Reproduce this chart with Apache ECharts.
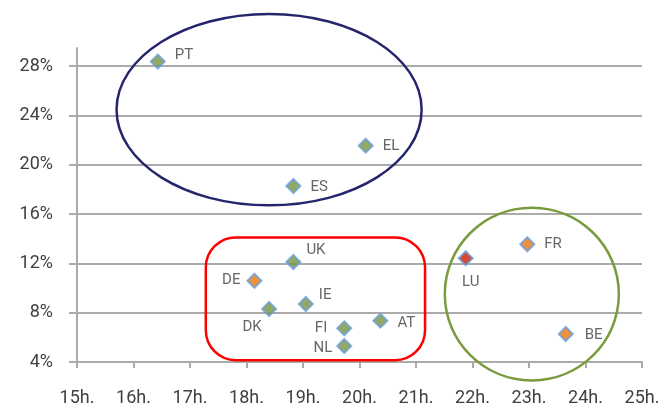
<!DOCTYPE html>
<html>
<head>
<meta charset="utf-8">
<script src="https://cdn.jsdelivr.net/npm/echarts@6/dist/echarts.min.js"></script>
<style>
  html, body { margin: 0; padding: 0; background: #fff; }
  #chart { width: 665px; height: 408px; }
</style>
</head>
<body>
<div id="chart"></div>
<script>
// Country codes and their coordinates (x: hours, y: percent)
const countries = ['PT', 'EL', 'ES', 'UK', 'DE', 'IE', 'DK', 'FI', 'NL', 'AT', 'LU', 'FR', 'BE'];
const xValues  = [16.43, 20.11, 18.83, 18.83, 18.14, 19.05, 18.40, 19.73, 19.73, 20.37, 21.88, 22.97, 23.65];
const yValues  = [28.36, 21.54, 18.27, 12.11, 10.59, 8.70, 8.30, 6.73, 5.30, 7.35, 12.41, 13.55, 6.27];
const groups   = ['g', 'g', 'g', 'g', 'o', 'g', 'g', 'g', 'g', 'g', 'r', 'o', 'o'];

// Axis tick labels
const xTickLabels = ['15h.', '16h.', '17h.', '18h.', '19h.', '20h.', '21h.', '22h.', '23h.', '24h.', '25h.'];
const yTickValues = [4, 8, 12, 16, 20, 24, 28];
const yTickLabels = ['4%', '8%', '12%', '16%', '20%', '24%', '28%'];

// Marker fill per group
const groupColors = { g: '#77933C', o: '#E8760E', r: '#CC1A00' };

// Where each country label sits relative to its marker
const labelLayout = {
  PT: { position: 'right', offset: [0, -6] },
  EL: { position: 'right', offset: [0, 1] },
  ES: { position: 'right', offset: [0, 1] },
  UK: { position: 'right', offset: [-4, -12] },
  DE: { position: 'left',  offset: [3, 0] },
  IE: { position: 'right', offset: [-4, -9] },
  DK: { position: 'bottom', offset: [-17, -6] },
  FI: { position: 'left',  offset: [0, 0] },
  NL: { position: 'left',  offset: [5, 2] },
  AT: { position: 'right', offset: [0, 3] },
  LU: { position: 'bottom', offset: [5, -1] },
  FR: { position: 'right', offset: [0, 0] },
  BE: { position: 'right', offset: [2, 1] }
};

const FONT = 'Roboto, "DejaVu Sans", sans-serif';
const TEXT = '#404040';
const AXIS_GREY = '#ababab';

const points = countries.map((c, i) => ({
  name: c,
  value: [xValues[i], yValues[i]],
  itemStyle: { color: groupColors[groups[i]] },
  label: Object.assign({ show: true }, labelLayout[c])
}));

const chart = echarts.init(document.getElementById('chart'), null, { renderer: 'canvas' });

chart.setOption({
  animation: false,
  backgroundColor: '#fff',
  grid: { left: 77, right: 23, top: 48, bottom: 46 },
  xAxis: {
    type: 'value',
    min: 15, max: 25, interval: 1,
    axisLine: { show: true, lineStyle: { color: AXIS_GREY, width: 2 } },
    axisTick: { show: true, length: 6, lineStyle: { color: AXIS_GREY, width: 2 } },
    splitLine: { show: false },
    axisLabel: {
      margin: 27,
      color: TEXT, fontFamily: FONT, fontSize: 18,
      formatter: (v) => xTickLabels[Math.round(v - 15)]
    }
  },
  yAxis: {
    type: 'value',
    min: 4, max: 29.46, interval: 4,
    axisLine: { show: true, lineStyle: { color: AXIS_GREY, width: 2 } },
    axisTick: {
      show: true, length: 8, customValues: yTickValues,
      lineStyle: { color: AXIS_GREY, width: 2 }
    },
    splitLine: { show: true, lineStyle: { color: AXIS_GREY, width: 2 } },
    axisLabel: {
      margin: 24, customValues: yTickValues,
      color: TEXT, fontFamily: FONT, fontSize: 18,
      formatter: (v) => yTickLabels[yTickValues.indexOf(Math.round(v))] || ''
    }
  },
  series: [{
    type: 'scatter',
    symbol: 'diamond',
    symbolSize: 14,
    z: 5,
    itemStyle: { borderColor: '#6A9FD8', borderWidth: 2 },
    label: {
      show: true,
      distance: 9,
      color: TEXT, fontFamily: FONT, fontSize: 15,
      formatter: (p) => p.name
    },
    data: points
  }]
});

// Annotation outlines, placed in data units and converted to pixels
function px(x, y) { return chart.convertToPixel({ gridIndex: 0 }, [x, y]); }

const ellC = px(18.40, 24.46);
const ellE = px(18.40 + 2.70, 24.46 + 7.76);
const rectA = px(17.28, 14.10);
const rectB = px(21.16, 4.15);
const circC = px(23.05, 9.51);
const circE = px(23.05 + 1.54, 9.51 + 7.0);

chart.setOption({
  graphic: [
    {
      type: 'ellipse', z: 10,
      shape: { cx: ellC[0], cy: ellC[1], rx: ellE[0] - ellC[0], ry: ellC[1] - ellE[1] },
      style: { fill: null, stroke: '#25256E', lineWidth: 2.5 }
    },
    {
      type: 'rect', z: 10,
      shape: { x: rectA[0], y: rectA[1], width: rectB[0] - rectA[0], height: rectB[1] - rectA[1], r: 30 },
      style: { fill: null, stroke: '#FF0000', lineWidth: 2.5 }
    },
    {
      type: 'ellipse', z: 10,
      shape: { cx: circC[0], cy: circC[1], rx: circE[0] - circC[0], ry: circC[1] - circE[1] },
      style: { fill: null, stroke: '#7A9A3E', lineWidth: 2.5 }
    }
  ]
});
</script>
</body>
</html>
